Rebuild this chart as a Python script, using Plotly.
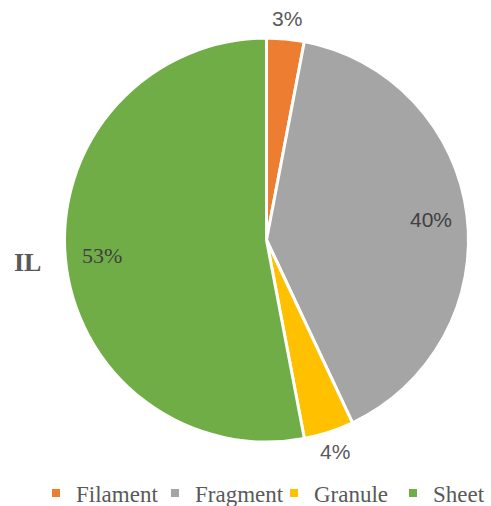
import math
import plotly.graph_objects as go

# Particle shape composition for the IL sample
categories = ["Filament", "Fragment", "Granule", "Sheet"]
shares = [3, 40, 4, 53]
colors = ["#ED7D31", "#A5A5A5", "#FFC000", "#70AD47"]
label_inside = [False, True, False, True]
label_fonts = ["Liberation Sans", "Liberation Sans", "Liberation Sans", "Liberation Serif"]
label_colors = ["#595959", "#404040", "#595959", "#404040"]

W, H = 491, 506
CX, CY, R = 266.5, 240.0, 202.0  # pie centre / radius in page pixels

fig = go.Figure()

fig.add_trace(go.Pie(
    labels=categories,
    values=shares,
    sort=False,
    direction="clockwise",
    rotation=0,
    marker=dict(colors=colors, line=dict(color="white", width=3)),
    textinfo="none",
    hoverinfo="label+percent",
    showlegend=False,
    domain=dict(x=[(CX - R) / W, (CX + R) / W], y=[1 - (CY + R) / H, 1 - (CY - R) / H]),
))

# legend entries with small square swatches
for name, col in zip(categories, colors):
    fig.add_trace(go.Scatter(
        x=[None], y=[None], mode="markers", name=name,
        marker=dict(symbol="square", size=8, color=col),
    ))

# percentage labels placed along each slice's mid-angle
total = sum(shares)
cum = 0.0
annotations = []
for val, inside, fam, tc in zip(shares, label_inside, label_fonts, label_colors):
    mid = (cum + val / 2) / total * 2 * math.pi
    cum += val
    rr = R * (0.82 if inside else 1.1)
    px = CX + rr * math.sin(mid)
    py = CY - rr * math.cos(mid)
    annotations.append(dict(
        x=px / W, y=1 - py / H, xref="paper", yref="paper",
        text=f"{round(val / total * 100)}%", showarrow=False,
        font=dict(family=fam, size=21 if fam == "Liberation Sans" else 22, color=tc),
        xanchor="center", yanchor="middle",
    ))

annotations.append(dict(
    x=27 / W, y=1 - 262 / H, xref="paper", yref="paper", text="<b>IL</b>",
    showarrow=False, xanchor="center", yanchor="middle",
    font=dict(family="Liberation Serif", size=26, color="#595959"),
))

fig.update_layout(
    width=W, height=H,
    margin=dict(l=0, r=0, t=0, b=0, autoexpand=False),
    paper_bgcolor="white", plot_bgcolor="white",
    xaxis=dict(visible=False), yaxis=dict(visible=False),
    annotations=annotations,
    legend=dict(
        orientation="h", x=36 / W, y=1 - 493 / H, xanchor="left", yanchor="middle",
        font=dict(family="Liberation Serif", size=23, color="#595959"),
        entrywidth=74, entrywidthmode="pixels", itemwidth=30,
        bgcolor="rgba(0,0,0,0)",
    ),
)

fig.write_html("out.html")
